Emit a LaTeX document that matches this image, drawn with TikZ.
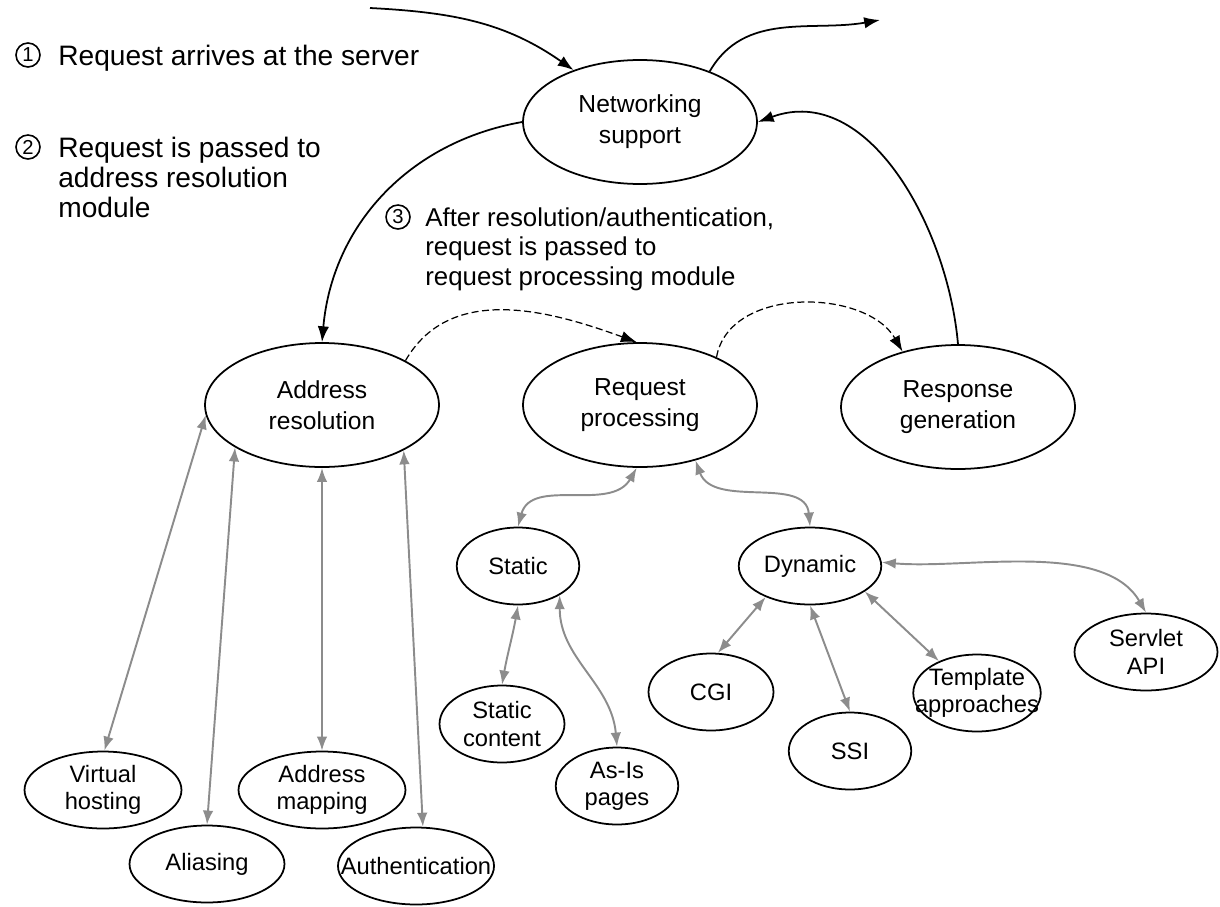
\documentclass[tikz,border=0pt]{standalone}
\usepackage{fontspec}
\setmainfont{Liberation Sans}
\usetikzlibrary{shapes.geometric,arrows.meta}

\begin{document}
\begin{tikzpicture}[x=0.02cm,y=-0.02cm,
    module/.style={ellipse,draw,line width=1pt,inner xsep=-4mm,inner ysep=0pt,align=center,
        minimum width=2.5cm,minimum height=1.54cm,font=\fontsize{13.5}{15.5}\selectfont},
    bigmodule/.style={module,minimum width=4.68cm,minimum height=2.48cm,font=\fontsize{14}{17.5}\selectfont},
    note/.style={align=left,anchor=north west,inner sep=0pt,font=\fontsize{16}{17}\selectfont},
    stepno/.style={circle,draw,line width=0.9pt,inner sep=0pt,minimum size=0.48cm,font=\fontsize{11.5}{11.5}\selectfont},
    flow/.style={-{Latex[length=9pt,width=6.5pt]},line width=1pt},
    handoff/.style={flow,line width=0.7pt,dash pattern=on 4pt off 2pt},
    link/.style={{Latex[length=8pt,width=6pt]}-{Latex[length=8pt,width=6pt]},black!45,line width=1.1pt}]
        %\draw [help lines] (0,0) grid[step=100] (1220,906);
        \useasboundingbox (0,0) rectangle (1220,906);

        % steps
        \node [stepno] (s1) at (28,55) {1};
        \node [note] (t1) at (58,45) {Request arrives at the server};
        \node [stepno] (s2) at (28,147) {2};
        \node [note] (t2) at (58,137) {Request is passed to\\address resolution\\module};
        \node [stepno] (s3) at (398,217) {3};
        \node [note,font=\fontsize{14.7}{17}\selectfont] (t3) at (425,207) {After resolution/authentication,\\request is passed to\\request processing module};

        % main modules
        \node [bigmodule] (net) at (640,122) {Networking\\support};
        \node [bigmodule] (addr) at (322,405) {Address\\resolution};
        \node [bigmodule] (req) at (640,405) {Request\\processing};
        \node [bigmodule] (resp) at (958,407) {Response\\generation};

        % sub modules
        \node [module,minimum width=2.45cm] (static) at (518,566) {Static};
        \node [module,minimum width=2.85cm] (dyn) at (810,566) {Dynamic};
        \node [module] (scont) at (502,724) {Static\\content};
        \node [module,minimum width=2.45cm] (asis) at (617,786) {As-Is\\pages};
        \node [module] (cgi) at (711,692) {CGI};
        \node [module,minimum width=2.45cm] (ssi) at (850,751) {SSI};
        \node [module,minimum width=2.55cm] (tmpl) at (977,693) {Template\\approaches};
        \node [module,minimum width=2.86cm] (servlet) at (1146,652) {Servlet\\API};
        \node [module,minimum width=3.14cm] (vhost) at (103,790) {Virtual\\hosting};
        \node [module,minimum width=3.1cm] (alias) at (207,864) {Aliasing};
        \node [module,minimum width=3.34cm] (amap) at (322,790) {Address\\mapping};
        \node [module,minimum width=3cm] (auth) at (416,866) {Authentication};

        \coordinate (src) at (370,8);
        \coordinate (dst) at (880,20);

        \draw [flow] (src) to[out=-3,in=145] (net.142);
        \draw [flow] (net.36) to[out=60,in=190] (dst);
        \draw [flow] (net.west) to[out=190,in=85] (addr.north);
        \draw [flow] (resp.north) to[out=95,in=20] (net.east);

        \draw [handoff] (addr.28) to[out=60,in=160] (req.93);
        \draw [handoff] (req.32) to[out=80,in=120] (resp.135);

        \draw [link] (addr.185) -- (vhost.88);
        \draw [link] (addr.206) -- (alias.north);
        \draw [link] (addr.south) -- (amap.north);
        \draw [link] (addr.-29) -- (auth.80);

        \draw [link] (req.-93) to[out=-120,in=75] (static.north);
        \draw [link] (req.-45) to[out=-70,in=95] (dyn.north);
        \draw [link] (static.south) to[out=-100,in=80] (scont.north);
        \draw [link] (static.-35) to[out=-90,in=95] (asis.north);
        \draw [link] (dyn.-145) -- (cgi.80);
        \draw [link] (dyn.south) -- (ssi.north);
        \draw [link] (dyn.-25) -- (tmpl.140);
        \draw [link] (dyn.3) to[out=-5,in=120,looseness=0.8] (servlet.north);

\end{tikzpicture}
\end{document}
